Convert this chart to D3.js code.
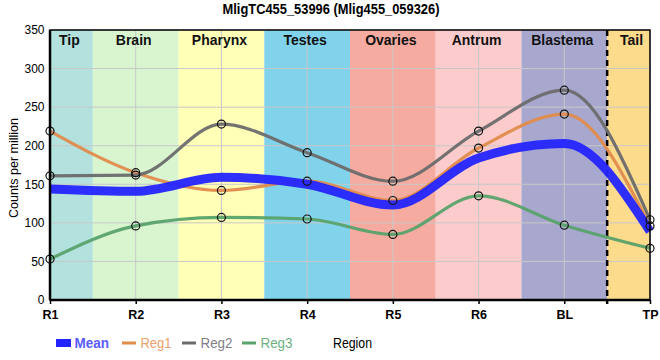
<!DOCTYPE html>
<html><head><meta charset="utf-8">
<script src="https://cdn.jsdelivr.net/npm/d3@7"></script>
<style>body{margin:0;background:#fff}svg{display:block}</style>
</head><body>
<div id="chart"></div>
<script>
const categories = ["R1","R2","R3","R4","R5","R6","BL","TP"];
const reg1 = [219,165,142,154,129,197,241,96];
const reg2 = [161,162,228,191,154,219,272,104];
const reg3 = [53,96,107,105,85,135,97,67];
const meanVals = [144,141,159,150,123,184,203,89];
const regions = ["Tip","Brain","Pharynx","Testes","Ovaries","Antrum","Blastema","Tail"];
const regionColors = ["#b3e2de","#d8f5d0","#ffffb8","#80d3eb","#f5aba0","#fccbcb","#a8a8cf","#fddb8d"];
const yTicks = [0,50,100,150,200,250,300,350];
const seriesNames = ["Mean","Reg1","Reg2","Reg3"];
const seriesColors = ["#2424ff","#e08b4c","#6b6b6b","#58a26c"];
const legendTextColors = ["#5a5aff","#eba06c","#808088","#6cb082"];

const W=660,H=360, L=50,R=650,T=30,B=300;
const font = "'Liberation Sans',Arial,sans-serif";
const svg = d3.select("#chart").append("svg").attr("width",W).attr("height",H);
const x = d3.scalePoint().domain(categories).range([L,R]);
const y = d3.scaleLinear().domain([0,350]).range([B,T]);
const step = x.step();

const bands = regions.map((r,i)=>{
  const c = x(categories[i]);
  return {name:r, x0:Math.max(L,c-step/2), x1:Math.min(R,c+step/2), color:regionColors[i]};
});
svg.selectAll("rect.band").data(bands).enter().append("rect")
  .attr("x",d=>d.x0).attr("y",T).attr("width",d=>d.x1-d.x0).attr("height",B-T)
  .attr("fill",d=>d.color);

// grid
svg.append("g").selectAll("line").data(yTicks).enter().append("line")
  .attr("x1",L).attr("x2",R).attr("y1",d=>y(d)).attr("y2",d=>y(d))
  .attr("stroke","#c8c8c8").attr("stroke-width",1);
svg.append("g").selectAll("line").data(categories).enter().append("line")
  .attr("x1",d=>x(d)).attr("x2",d=>x(d)).attr("y1",T).attr("y2",B)
  .attr("stroke","#c8c8c8").attr("stroke-width",1);

// region labels
svg.append("g").selectAll("text").data(bands).enter().append("text")
  .attr("x",(d,i)=>(d.x0+d.x1)/2 + (i===bands.length-1?3:-2)).attr("y",45).attr("text-anchor","middle")
  .attr("font-family",font).attr("font-weight","bold").attr("font-size",14)
  .attr("fill","#111").text(d=>d.name);

// dashed separator between BL and TP
const sepX = (x("BL")+x("TP"))/2;
svg.append("line").attr("x1",sepX).attr("x2",sepX).attr("y1",T).attr("y2",B+4)
  .attr("stroke","#000").attr("stroke-width",2.5).attr("stroke-dasharray","6,4");

// lines
const line = d3.line().x((d,i)=>x(categories[i])).y(d=>y(d)).curve(d3.curveMonotoneX);
[reg1,reg2,reg3].forEach((s,k)=>{
  svg.append("path").attr("d",line(s)).attr("fill","none")
    .attr("stroke",seriesColors[k+1]).attr("stroke-width",3.2).attr("stroke-opacity",0.95);
});
svg.append("path").attr("d",line(meanVals)).attr("fill","none")
  .attr("stroke",seriesColors[0]).attr("stroke-width",9).attr("stroke-opacity",0.95);

// points
[reg1,reg2,reg3].forEach(s=>{
  svg.append("g").selectAll("circle").data(s).enter().append("circle")
    .attr("cx",(d,i)=>x(categories[i])).attr("cy",d=>y(d)).attr("r",4)
    .attr("fill","none").attr("stroke","#111").attr("stroke-width",1.2);
});

// frame
svg.append("rect").attr("x",L).attr("y",T).attr("width",R-L).attr("height",B-T)
  .attr("fill","none").attr("stroke","#000").attr("stroke-width",1.5);
svg.append("line").attr("x1",L).attr("x2",L).attr("y1",T).attr("y2",B).attr("stroke","#000").attr("stroke-width",2.5);
svg.append("line").attr("x1",L).attr("x2",R).attr("y1",B).attr("y2",B).attr("stroke","#000").attr("stroke-width",2.5);

// y axis
const yAxis = svg.append("g").attr("transform",`translate(${L},0)`)
  .call(d3.axisLeft(y).tickValues(yTicks).tickSize(0).tickPadding(5.5));
yAxis.select(".domain").remove();
yAxis.selectAll("text").attr("font-family",font).attr("font-size",12).attr("fill","#000");

// x axis
const xAxis = svg.append("g").attr("transform",`translate(0,${B})`)
  .call(d3.axisBottom(x).tickSize(4).tickPadding(6));
xAxis.select(".domain").remove();
xAxis.selectAll("line").attr("stroke","#000").attr("stroke-width",1.5);
xAxis.selectAll("text").attr("font-family",font).attr("font-weight","bold").attr("font-size",12.5).attr("fill","#000");

// titles
svg.append("text").attr("x",331).attr("y",14).attr("text-anchor","middle")
  .attr("font-family",font).attr("font-weight","bold").attr("font-size",14)
  .attr("textLength",217).attr("lengthAdjust","spacingAndGlyphs")
  .text("MligTC455_53996 (Mlig455_059326)");
svg.append("text").attr("transform",`translate(18,168) rotate(-90)`)
  .attr("text-anchor","middle").attr("font-family",font).attr("font-size",13.5)
  .attr("textLength",100).attr("lengthAdjust","spacingAndGlyphs")
  .text("Counts per million");
svg.append("text").attr("x",333).attr("y",348)
  .attr("font-family",font).attr("font-size",15)
  .attr("textLength",39).attr("lengthAdjust","spacingAndGlyphs").text("Region");

// legend
const legX = [56,122,182,242];
const legW = [34.5,31,32,32];
const lg = svg.append("g");
seriesNames.forEach((n,i)=>{
  if(i===0){
    lg.append("rect").attr("x",legX[i]).attr("y",339).attr("width",15).attr("height",8).attr("fill",seriesColors[0]);
  } else {
    lg.append("line").attr("x1",legX[i]).attr("x2",legX[i]+14).attr("y1",343).attr("y2",343)
      .attr("stroke",seriesColors[i]).attr("stroke-width",3);
  }
  lg.append("text").attr("x",legX[i]+18.5).attr("y",348)
    .attr("font-family",font).attr("font-size",15).attr("font-weight",i===0?"bold":"normal")
    .attr("textLength",legW[i]).attr("lengthAdjust","spacingAndGlyphs")
    .attr("fill",legendTextColors[i]).text(n);
});
</script>
</body></html>
